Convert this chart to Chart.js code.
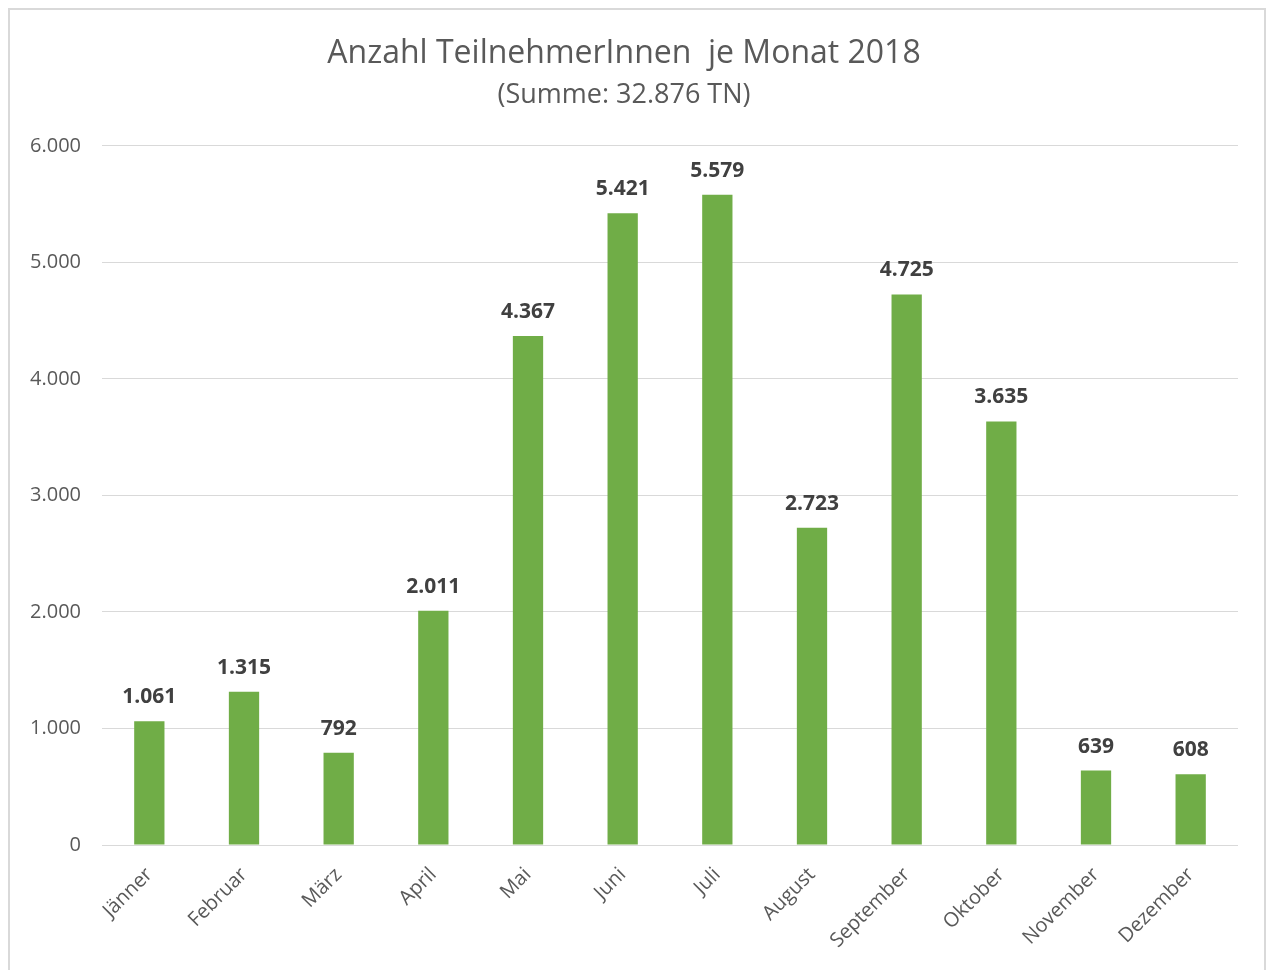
<!DOCTYPE html>
<html>
<head>
<meta charset="utf-8">
<script src="https://cdn.jsdelivr.net/npm/chart.js@4"></script>
<style>
html,body{margin:0;padding:0;background:#fff;}
#wrap{width:1268px;height:970px;position:relative;}
</style>
</head>
<body>
<div id="wrap"><canvas id="c" width="1268" height="970"></canvas></div>
<script>
const months = ["Jänner","Februar","März","April","Mai","Juni","Juli","August","September","Oktober","November","Dezember"];
const participants = [1061,1315,792,2011,4367,5421,5579,2723,4725,3635,639,608];
const titleText = "Anzahl TeilnehmerInnen  je Monat 2018";
const subtitleText = "(Summe: 32.876 TN)";
const yMin = 0, yMax = 6000, yStep = 1000;

function fmt(v){
  return String(Math.round(v)).replace(/\B(?=(\d{3})+(?!\d))/g, ".");
}

const FONT = "'Open Sans', 'DejaVu Sans', sans-serif";

const frame = {
  id:'frame',
  beforeDraw(chart){
    const ctx = chart.ctx;
    ctx.save();
    ctx.fillStyle = '#ffffff';
    ctx.fillRect(0,0,chart.width,chart.height);
    ctx.strokeStyle = '#d9d9d9';
    ctx.lineWidth = 2;
    ctx.strokeRect(9, 9, 1256, 1000);
    ctx.restore();
  }
};

const labelsPlugin = {
  id:'valueLabels',
  afterDatasetsDraw(chart){
    const ctx = chart.ctx;
    const meta = chart.getDatasetMeta(0);
    ctx.save();
    ctx.font = "bold 21px " + FONT;
    ctx.fillStyle = '#404040';
    ctx.textAlign = 'center';
    ctx.textBaseline = 'middle';
    meta.data.forEach((bar, i) => {
      ctx.fillText(fmt(participants[i]), bar.x, bar.y - 24);
    });
    ctx.restore();
  }
};

new Chart(document.getElementById('c'), {
  type:'bar',
  data:{
    labels: months,
    datasets:[{
      data: participants,
      backgroundColor:'#70ad47',
      borderWidth:0,
      barPercentage:0.32,
      categoryPercentage:1.0
    }]
  },
  options:{
    responsive:false,
    animation:false,
    devicePixelRatio:1,
    layout:{padding:{top:35,left:10,right:30,bottom:10}},
    plugins:{
      legend:{display:false},
      tooltip:{enabled:false},
      title:{
        display:true,
        text:titleText,
        color:'#595959',
        font:{family:FONT,size:32,weight:'normal',lineHeight:1.2},
        padding:{top:0,bottom:6}
      },
      subtitle:{
        display:true,
        text:subtitleText,
        color:'#595959',
        font:{family:FONT,size:27,weight:'normal',lineHeight:1.2},
        padding:{top:0,bottom:34}
      }
    },
    scales:{
      x:{
        grid:{display:false, drawTicks:false},
        border:{display:false},
        ticks:{
          color:'#595959',
          font:{family:FONT,size:20},
          maxRotation:45,minRotation:45,
          padding:18,
          autoSkip:false
        },
        afterFit(scale){ scale.height = 115; }
      },
      y:{
        min:yMin,max:yMax,
        grid:{color:'#d9d9d9',lineWidth:1,drawTicks:false},
        border:{display:false},
        ticks:{
          stepSize:yStep,
          color:'#595959',
          font:{family:FONT,size:20},
          padding:21,
          callback:(v)=>fmt(v)
        },
        afterFit(scale){ scale.width = 92; }
      }
    }
  },
  plugins:[frame,labelsPlugin]
});
</script>
</body>
</html>
